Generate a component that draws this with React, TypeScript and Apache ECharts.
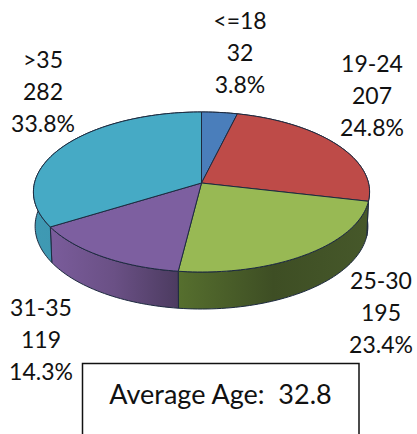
import React, { useEffect, useRef } from "react";
import * as echarts from "echarts";

const categories = ["<=18", "19-24", "25-30", "31-35", ">35"];
const counts = [32, 207, 195, 119, 282];
const percents = ["3.8%", "24.8%", "23.4%", "14.3%", "33.8%"];
const topColors = ["#4a7ebb", "#be4b48", "#98b954", "#7d5fa0", "#46aac5"];
const sideColors = [
  ["#3b6596", "#3b6596"],
  ["#8e3836", "#8e3836"],
  ["#566f2e", "#3e4e24", "#46582a"],
  ["#7a5c9b", "#6a5085", "#4c3b60"],
  ["#3f9ab4", "#3a8ba3"],
];
const labelPositions = [
  [240, 52],
  [372, 95],
  [381, 312],
  [41, 339],
  [43, 91],
];
const noteText = "Average Age:  32.8";

const total = counts.reduce((a, b) => a + b, 0);
const CX = 201.5;
const CY = 183;
const A = 167;
const B = 79;
const K = 0.1125;
const EDGE = "#1d2a3f";

function project(fraction: number, lower: boolean): number[] {
  const t = fraction * Math.PI * 2;
  const u = Math.sin(t);
  const v = Math.cos(t);
  const d = 1 + K * v;
  const x = CX + ((lower ? 0.99 : 1) * A * u) / d;
  const y = CY - (B * v) / d + (lower ? 34 - 3 * v : 0);
  return [x, y];
}

function arc(from: number, to: number, lower: boolean): number[][] {
  const n = Math.max(2, Math.ceil((to - from) * 240));
  const pts: number[][] = [];
  for (let i = 0; i <= n; i++) pts.push(project(from + ((to - from) * i) / n, lower));
  return pts;
}

function sliceRange(index: number): [number, number] {
  const before = counts.slice(0, index).reduce((a, b) => a + b, 0);
  return [before / total, (before + counts[index]) / total];
}

function renderSide(params: any) {
  const i = params.dataIndex;
  const [from, to] = sliceRange(i);
  const stops = sideColors[i].map((color, k, all) => ({ offset: k / Math.max(1, all.length - 1), color }));
  return {
    type: "polygon",
    shape: { points: [...arc(from, to, false), ...arc(from, to, true).reverse()] },
    style: {
      fill: new echarts.graphic.LinearGradient(0, 0, 1, 0, stops),
      stroke: EDGE,
      lineWidth: 1,
    },
    silent: true,
  };
}

function renderTop(params: any) {
  const i = params.dataIndex;
  const [from, to] = sliceRange(i);
  return {
    type: "polygon",
    shape: { points: [[CX, CY], ...arc(from, to, false)] },
    style: { fill: topColors[i], stroke: EDGE, lineWidth: 1 },
    silent: true,
  };
}

export default function App() {
  const ref = useRef<HTMLDivElement>(null);
  useEffect(() => {
    const chart = echarts.init(ref.current!, null, { renderer: "svg" });
    const data = counts.map((c) => [c]);
    const labels = categories.map((cat, i) => ({
      type: "text",
      x: labelPositions[i][0],
      y: labelPositions[i][1],
      style: {
        text: `${cat}\n${counts[i]}\n${percents[i]}`,
        font: '23px Lato, "Open Sans", sans-serif',
        fill: "#111",
        align: "center",
        verticalAlign: "middle",
        lineHeight: 32,
      },
    }));
    chart.setOption({
      animation: false,
      backgroundColor: "#fff",
      series: [
        { type: "custom", coordinateSystem: "none", renderItem: renderSide, data, silent: true, z: 1 },
        { type: "custom", coordinateSystem: "none", renderItem: renderTop, data, silent: true, z: 2 },
      ],
      graphic: [
        ...labels,
        {
          type: "rect",
          shape: { x: 82.5, y: 363.5, width: 276.5, height: 90 },
          style: { fill: "#fff", stroke: "#111", lineWidth: 1.5 },
        },
        {
          type: "text",
          x: 220.5,
          y: 393,
          style: {
            text: noteText,
            font: '27px Lato, "Open Sans", sans-serif',
            fill: "#111",
            align: "center",
            verticalAlign: "middle",
          },
        },
      ],
    });
    return () => chart.dispose();
  }, []);
  return <div ref={ref} style={{ position: "fixed", left: 0, top: 0, width: 417, height: 434 }} />;
}
